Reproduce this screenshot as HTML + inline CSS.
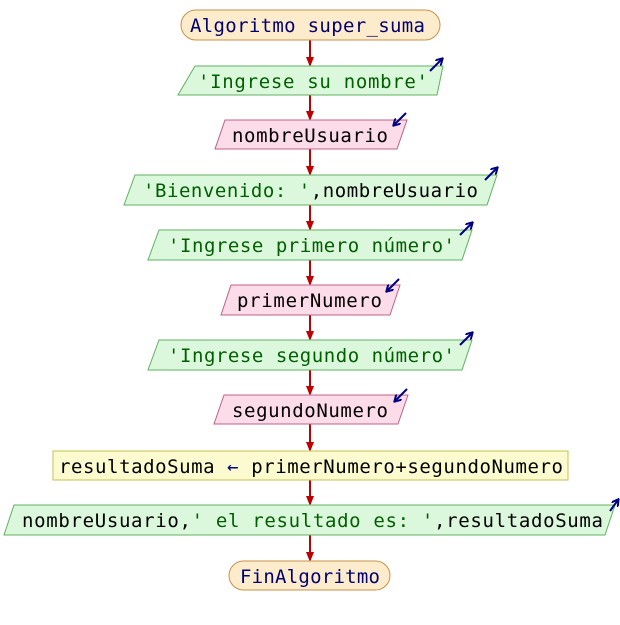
<!DOCTYPE html>
<html><head><meta charset="utf-8"><style>
html,body{margin:0;padding:0;background:#fff;width:620px;height:625px;overflow:hidden}
text{font-family:"DejaVu Sans Mono","Liberation Mono",monospace;font-size:19px}
.s{fill:#006000}.k{fill:#000070}.i{fill:#000}
.g{fill:#dcf8dc;stroke:#60b060;stroke-width:1}
.p{fill:#fbdce8;stroke:#c06088;stroke-width:1}
.a{stroke:#c00000;stroke-width:2}
.ic{stroke:#000080;stroke-width:2;fill:none}
</style></head><body>
<svg width="620" height="625" xmlns="http://www.w3.org/2000/svg">
<defs>
<marker id="ar" markerWidth="10" markerHeight="8" refX="8" refY="4" orient="auto" markerUnits="userSpaceOnUse"><path d="M0,0 L10,4 L0,8 z" fill="#c00000"/></marker>
<marker id="bi" markerWidth="8" markerHeight="8" refX="6" refY="4" orient="auto" markerUnits="userSpaceOnUse"><path d="M0,0 L7,4 L0,8" fill="none" stroke="#000080" stroke-width="2"/></marker>
</defs>
<g class="a" marker-end="url(#ar)">
<line x1="310" y1="40" x2="310" y2="65"/>
<line x1="310" y1="95" x2="310" y2="119"/>
<line x1="310" y1="149" x2="310" y2="174"/>
<line x1="310" y1="205" x2="310" y2="229"/>
<line x1="310" y1="260" x2="310" y2="284"/>
<line x1="310" y1="315" x2="310" y2="339"/>
<line x1="310" y1="370" x2="310" y2="394"/>
<line x1="310" y1="424" x2="310" y2="450"/>
<line x1="310" y1="480" x2="310" y2="504"/>
<line x1="310" y1="535" x2="310" y2="560"/>
</g>
<rect x="181" y="10" width="259" height="30" rx="15" fill="#fdeccb" stroke="#c89048"/>
<text x="190" y="32" textLength="235" class="k">Algoritmo super_suma</text>
<polygon class="g" points="195,66 443,66 437,95 178,95"/>
<text x="198" y="88" textLength="230" class="s">'Ingrese su nombre'</text>
<line class="ic" x1="430" y1="71" x2="442" y2="59" marker-end="url(#bi)"/>
<polygon class="p" points="225,120 407,120 397,149 215,149"/>
<text x="232" y="142" textLength="156" class="i">nombreUsuario</text>
<line class="ic" x1="406" y1="113" x2="394" y2="125" marker-end="url(#bi)"/>
<polygon class="g" points="135,175 497,175 487,205 124,205"/>
<text x="143" y="197" textLength="335"><tspan class="s">'Bienvenido: '</tspan><tspan class="i">,nombreUsuario</tspan></text>
<line class="ic" x1="485" y1="180" x2="497" y2="168" marker-end="url(#bi)"/>
<polygon class="g" points="159,230 472,230 462,260 148,260"/>
<text x="168" y="252" textLength="287" class="s">'Ingrese primero número'</text>
<line class="ic" x1="460" y1="235" x2="472" y2="223" marker-end="url(#bi)"/>
<polygon class="p" points="231,285 400,285 390,315 221,315"/>
<text x="237" y="307" textLength="145" class="i">primerNumero</text>
<line class="ic" x1="399" y1="279" x2="387" y2="291" marker-end="url(#bi)"/>
<polygon class="g" points="159,340 472,340 462,370 148,370"/>
<text x="168" y="362" textLength="287" class="s">'Ingrese segundo número'</text>
<line class="ic" x1="460" y1="345" x2="472" y2="333" marker-end="url(#bi)"/>
<polygon class="p" points="224,395 408,395 398,424 214,424"/>
<text x="232" y="417" textLength="156" class="i">segundoNumero</text>
<line class="ic" x1="407" y1="389" x2="395" y2="401" marker-end="url(#bi)"/>
<rect x="53" y="451" width="515" height="29" fill="#fbfbcf" stroke="#c8c050"/>
<text x="59" y="473" textLength="504" class="i">resultadoSuma <tspan fill="#000080">←</tspan> primerNumero+segundoNumero</text>
<polygon class="g" points="14,505 615,505 605,535 4,535"/>
<text x="22" y="527" textLength="581"><tspan class="i">nombreUsuario,</tspan><tspan class="s">' el resultado es: '</tspan><tspan class="i">,resultadoSuma</tspan></text>
<line class="ic" x1="610" y1="511" x2="618" y2="500" marker-end="url(#bi)"/>
<rect x="229" y="561" width="161" height="29" rx="14.5" fill="#fdeccb" stroke="#c89048"/>
<text x="240" y="583" textLength="140" class="k">FinAlgoritmo</text>
</svg>
</body></html>
